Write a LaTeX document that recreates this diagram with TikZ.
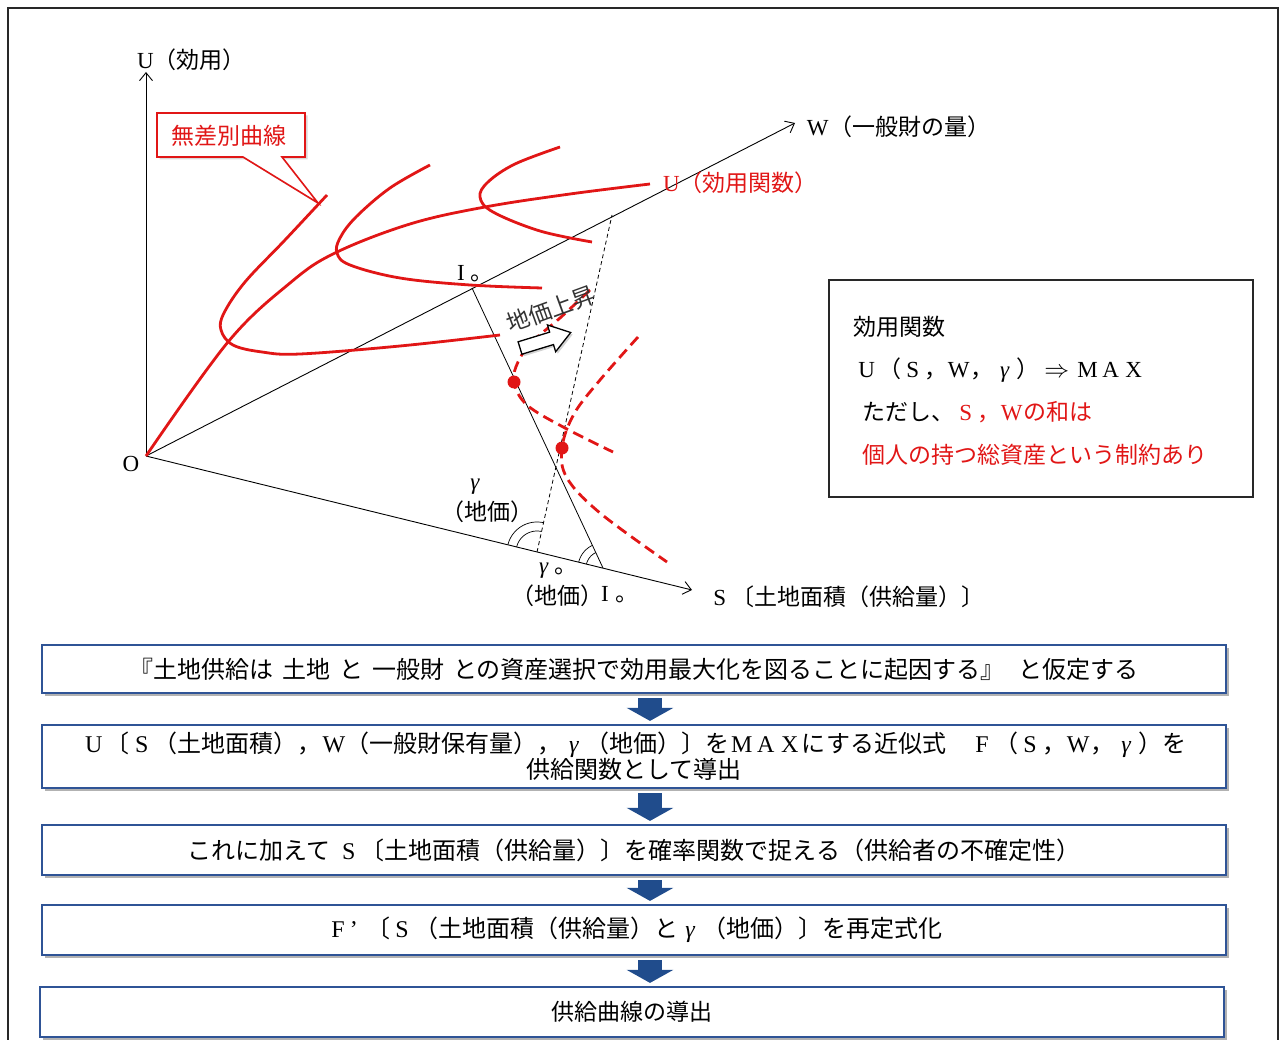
\documentclass[tikz,border=0pt]{standalone}
\usepackage{fontspec}
\setmainfont{Noto Sans CJK JP}
\newfontfamily\latf{Liberation Serif}
\newcommand\lt[1]{{\latf #1}}
\newcommand\gm{{\latf\itshape γ}}
\newcommand\fw[1]{\makebox[1em]{\lt{#1}}}
\usetikzlibrary{arrows.meta,shadows}
\definecolor{redc}{RGB}{225,22,22}
\definecolor{flowblue}{RGB}{47,84,150}
\definecolor{arrowblue}{RGB}{32,76,140}
\definecolor{framegray}{RGB}{40,40,40}
\begin{document}
\begin{tikzpicture}[x=1pt, y=-1pt,
  every node/.style={font=\fontsize{23pt}{29pt}\selectfont, inner sep=0pt},
  axisline/.style={line width=0.9pt, -{Straight Barb[length=8pt,width=13pt]}},
  thinline/.style={line width=0.8pt},
  dashline/.style={line width=0.8pt, dash pattern=on 4pt off 3pt},
  redcurve/.style={redc, line width=2.8pt},
  reddash/.style={redc, line width=2.8pt, dash pattern=on 11pt off 6pt},
  anglearc/.style={line width=0.7pt},
  flowbox/.style={draw=flowblue, line width=2.2pt, fill=white, minimum width=1184pt,
    font=\fontsize{24pt}{29pt}\selectfont,
    drop shadow={shadow xshift=3pt, shadow yshift=-3pt, fill=black, opacity=0.3}},
  flowarrow/.style={arrowblue, line width=24pt, -{Triangle[length=13pt,width=46pt]}, shorten <=4pt, shorten >=3pt},
]
\useasboundingbox (0,0) rectangle (1281,1040);
% outer frame
\draw[framegray, line width=2.5pt] (8,1040) -- (8,8) -- (1278,8) -- (1278,1040);

% ---------- axes ----------
\coordinate (O) at (146,456);
\coordinate (Utip) at (146,72);
\coordinate (Wtip) at (795,123);
\coordinate (Stip) at (692,590);
\draw[axisline] (O) -- (Utip);
\draw[axisline] (O) -- (Wtip);
\draw[axisline] (O) -- (Stip);
\node[anchor=west] (Ulab) at (137,60) {\lt{U}（効用）};
\node[anchor=west] (Wlab) at (806,127) {\fw{W}（一般財の量）};
\node[anchor=west] (Slab) at (708,597) {\fw{S}〔土地面積（供給量）〕};
\node (Olab) at (131,464) {\lt{O}};

% budget line and dashed line
\coordinate (Iw) at (472,288);
\coordinate (Is) at (603,568);
\coordinate (Gs) at (537,552);
\coordinate (Gw) at (612,215);
\draw[thinline] (Iw) -- (Is);
\draw[dashline] (Gs) -- (Gw);

% angle arcs
\draw[anglearc] plot[domain=77.5:166.2, samples=30] ({537+21*cos(\x)},{552-21*sin(\x)});
\draw[anglearc] plot[domain=77.5:166.2, samples=30] ({537+30*cos(\x)},{552-30*sin(\x)});
\draw[anglearc] plot[domain=115:166.2, samples=30] ({603+17*cos(\x)},{568-17*sin(\x)});
\draw[anglearc] plot[domain=115:166.2, samples=30] ({603+25*cos(\x)},{568-25*sin(\x)});

\node[anchor=west] (Itop) at (457,274) {\lt{I}\hspace{6pt}。};
\node[anchor=west] (Ibot) at (601,595) {\lt{I}\hspace{7pt}。};
\node (gam) at (475,487) {\gm};
\node (gamp) at (487,512) {（地価）};
\node[anchor=west] (gam0) at (539,571) {\gm\hspace{6pt}。};
\node (gam0p) at (557,596) {（地価）};

% ---------- red solid curves ----------
\draw[redcurve] plot[smooth, tension=0.6] coordinates {(146,456) (228,342) (290,283) (335,253) (410,224) (485,207) (570,194) (650,184)};
\draw[redcurve] plot[smooth, tension=0.6] coordinates {(327,195) (285,240) (245,282) (224,313) (221,330) (233,345) (262,352) (300,354) (400,346) (500,335)};
\draw[redcurve] plot[smooth, tension=0.6] coordinates {(430,165) (390,188) (356,217) (340,238) (337,253) (350,265) (400,278) (470,285) (542,288)};
\draw[redcurve] plot[smooth, tension=0.6] coordinates {(560,147) (515,164) (488,182) (480,197) (493,212) (540,231) (592,242)};
\node[anchor=west, text=redc] (Ufn) at (663,183) {\lt{U}（効用関数）};

% callout
\draw[redc, line width=1.6pt, fill=white, drop shadow={shadow xshift=2.5pt, shadow yshift=-2.5pt, opacity=0.3}]
  (157,113) -- (305,113) -- (305,157) -- (282,157) -- (318,203) -- (243,157) -- (157,157) -- cycle;
\node[text=redc] (callout) at (229,136) {無差別曲線};

% ---------- red dashed curves ----------
\draw[reddash] plot[smooth, tension=0.6] coordinates {(590,290) (560,318) (532,342) (518,362) (514,382) (527,405) (565,428) (613,452)};
\draw[reddash] plot[smooth, tension=0.6] coordinates {(638,337) (600,380) (574,414) (562,448) (567,478) (600,513) (667,562)};
\fill[redc] (514,382) circle[radius=6.5pt];
\fill[redc] (562,448) circle[radius=6.5pt];

% rising price label and outline arrow
\node[rotate=20, text=black!80] (rise) at (551,309) {地価上昇};
\begin{scope}[shift={(520,348)}, rotate=17]
  \draw[line width=1.3pt, fill=white, drop shadow={shadow xshift=2pt, shadow yshift=-2pt, opacity=0.35}]
    (0,-6.5) -- (33,-6.5) -- (33,-14) -- (53,0) -- (33,14) -- (33,6.5) -- (0,6.5) -- cycle;
\end{scope}

% ---------- right box ----------
\node[draw=framegray, line width=2pt, minimum width=424pt, minimum height=217pt, anchor=north west] (ubox) at (828,279) {};
\node[anchor=west] (ub1) at (853,327) {効用関数};
\node[anchor=west] (ub2) at (855,370) {\fw{U}（\fw{S}，\fw{W}，\makebox[1em]{\gm}）\hspace{6pt}\makebox[1em]{$\Rightarrow$}\hspace{8pt}\fw{M}\fw{A}\fw{X}};
\node[anchor=west] (ub3) at (862,412) {ただし、\textcolor{redc}{\fw{S}，\fw{W}の和は}};
\node[anchor=west, text=redc] (ub4) at (862,455) {個人の持つ総資産という制約あり};

% ---------- flow boxes ----------
\node[flowbox, minimum height=48pt] (b1) at (634,669) {『土地供給は\hspace{9pt}土地\hspace{9pt}と\hspace{9pt}一般財\hspace{9pt}との資産選択で効用最大化を図ることに起因する』\hspace{14pt}と仮定する};
\node[flowbox, minimum height=63pt, align=center] (b2) at (634,756.5) {\fw{U}〔\fw{S}（土地面積），\fw{W}（一般財保有量），\makebox[1em]{\gm}（地価）〕を\fw{M}\fw{A}\fw{X}にする近似式　\fw{F}（\fw{S}，\fw{W}，\makebox[1em]{\gm}）を\\[-3pt]供給関数として導出};
\node[flowbox, minimum height=50pt] (b3) at (634,850) {これに加えて\hspace{6pt}\fw{S}〔土地面積（供給量）〕を確率関数で捉える（供給者の不確定性）};
\node[flowbox, minimum height=50pt] (b4) at (634,930) {\fw{F}\lt{’}\hspace{8pt}〔\fw{S}（土地面積（供給量）と\makebox[1em]{\gm}（地価）〕を再定式化};
\node[flowbox, minimum height=50pt, font=\fontsize{23pt}{29pt}\selectfont] (b5) at (632,1012) {供給曲線の導出};

\coordinate (ax) at (650,0);
\draw[flowarrow] (b1.south -| ax) -- (b2.north -| ax);
\draw[flowarrow] (b2.south -| ax) -- (b3.north -| ax);
\draw[flowarrow] (b3.south -| ax) -- (b4.north -| ax);
\draw[flowarrow] (b4.south -| ax) -- (b5.north -| ax);
\end{tikzpicture}
\end{document}
